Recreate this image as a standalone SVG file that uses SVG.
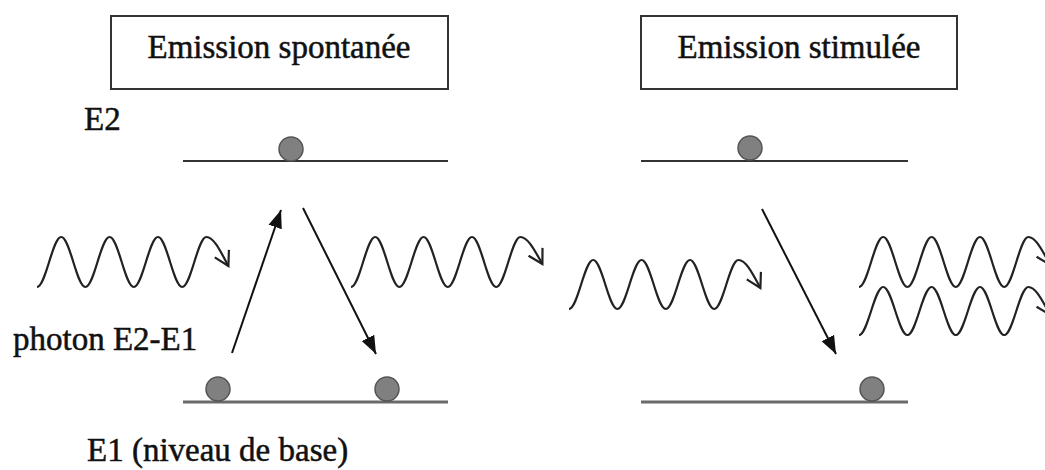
<svg xmlns="http://www.w3.org/2000/svg" width="1045" height="470" viewBox="0 0 1045 470">
<style>
.t{font-family:"Liberation Serif","Times New Roman",serif;font-size:33px;fill:#111;stroke:#111;stroke-width:0.5}
.box{fill:#fff;stroke:#333;stroke-width:2}
.lvl2{stroke:#333;stroke-width:2}
.lvl1{stroke:#6a6a6a;stroke-width:3}
.e{fill:#808080;stroke:#555;stroke-width:1.5}
.arr{stroke:#111;stroke-width:2;fill:none;marker-end:url(#tri)}
.wave{stroke:#222;stroke-width:2.2;fill:none;marker-end:url(#vee)}
</style>
<defs>
<marker id="tri" markerUnits="userSpaceOnUse" markerWidth="20" markerHeight="20" viewBox="-18 -8 20 16" refX="0" refY="0" orient="auto">
<path d="M-18,-7 L0,0 L-18,7 Z" fill="#111"/>
</marker>
<marker id="vee" markerUnits="userSpaceOnUse" markerWidth="20" markerHeight="20" viewBox="-16 -10 18 20" refX="0" refY="0" orient="auto">
<path d="M-14,-8 L0,0 L-14,8" fill="none" stroke="#222" stroke-width="2.2"/>
</marker>
</defs>
<rect width="1045" height="470" fill="#fff"/>
<g id="title-spontanee">
<rect class="box" x="111" y="16" width="337" height="73"/>
<text class="t" x="279" y="58" text-anchor="middle">Emission spontanée</text>
</g>
<g id="title-stimulee">
<rect class="box" x="641" y="16" width="316" height="73"/>
<text class="t" x="799" y="58" text-anchor="middle">Emission stimulée</text>
</g>
<g id="label-e2"><text class="t" x="84" y="130">E2</text></g>
<g id="label-photon"><text class="t" x="13" y="350">photon E2-E1</text></g>
<g id="label-e1"><text class="t" x="87" y="461">E1 (niveau de base)</text></g>
<g id="level-e2-left"><line class="lvl2" x1="183" y1="161" x2="448" y2="161"/></g>
<g id="level-e1-left"><line class="lvl1" x1="183" y1="402" x2="448" y2="402"/></g>
<g id="level-e2-right"><line class="lvl2" x1="641" y1="161" x2="908" y2="161"/></g>
<g id="level-e1-right"><line class="lvl1" x1="641" y1="402" x2="908" y2="402"/></g>
<g id="electron-1"><circle class="e" cx="291" cy="149" r="12"/></g>
<g id="electron-2"><circle class="e" cx="218" cy="389" r="12"/></g>
<g id="electron-3"><circle class="e" cx="387" cy="389" r="12"/></g>
<g id="electron-4"><circle class="e" cx="750" cy="148" r="12"/></g>
<g id="electron-5"><circle class="e" cx="872" cy="389" r="12"/></g>
<g id="connectors">
<line class="arr" x1="232" y1="353" x2="281" y2="210"/>
<line class="arr" x1="303" y1="208" x2="376" y2="354"/>
<line class="arr" x1="762" y1="209" x2="836" y2="354"/>
<path class="wave" d="M37,287 c8.8,0 15.4,-50 24.2,-50 s15.4,50 24.2,50 s15.4,-50 24.2,-50 s15.4,50 24.2,50 s15.4,-50 24.2,-50 s15.4,50 24.2,50 s15.4,-50 24.2,-50 c7,0 13,12 22,29"/>
<path class="wave" d="M351,287 c8.8,0 15.4,-50 24.2,-50 s15.4,50 24.2,50 s15.4,-50 24.2,-50 s15.4,50 24.2,50 s15.4,-50 24.2,-50 s15.4,50 24.2,50 s15.4,-50 24.2,-50 c7,0 13,11 22,27"/>
<path class="wave" d="M569,309 c8.8,0 15.4,-49 24.2,-49 s15.4,49 24.2,49 s15.4,-49 24.2,-49 s15.4,49 24.2,49 s15.4,-49 24.2,-49 s15.4,49 24.2,49 s15.4,-49 24.2,-49 c7,0 13,11 22,28"/>
<path class="wave" d="M859,287 c8.8,0 15.4,-50 24.2,-50 s15.4,50 24.2,50 s15.4,-50 24.2,-50 s15.4,50 24.2,50 s15.4,-50 24.2,-50 s15.4,50 24.2,50 s15.4,-50 24.2,-50 c7,0 13,12 22,28"/>
<path class="wave" d="M859,335 c8.8,0 15.4,-48 24.2,-48 s15.4,48 24.2,48 s15.4,-48 24.2,-48 s15.4,48 24.2,48 s15.4,-48 24.2,-48 s15.4,48 24.2,48 s15.4,-48 24.2,-48 c7,0 13,12 22,28"/>
</g>
</svg>
